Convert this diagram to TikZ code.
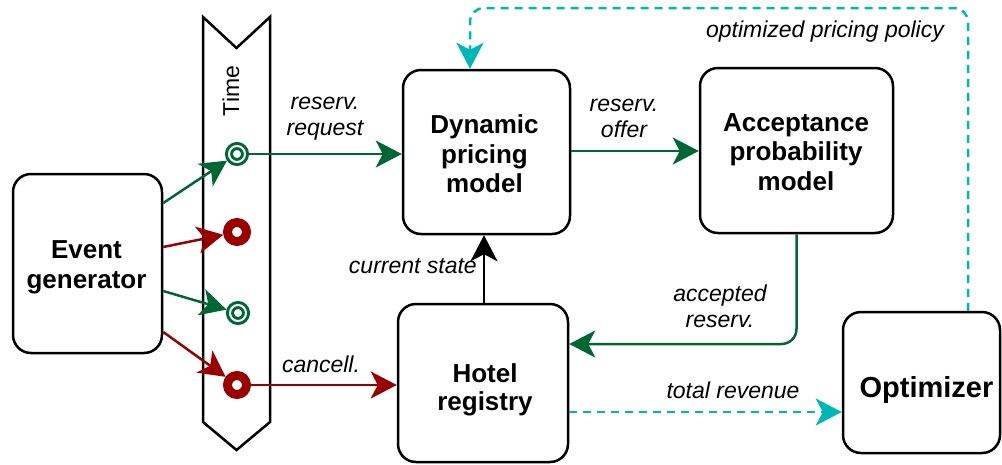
\documentclass[tikz,border=0pt]{standalone}
\usepackage{fontspec}
\setmainfont{Liberation Sans}
\usetikzlibrary{arrows.meta,calc}
\definecolor{cgreen}{RGB}{0,102,51}
\definecolor{cred}{RGB}{153,0,0}
\definecolor{ccyan}{RGB}{0,182,182}
\begin{document}
\begin{tikzpicture}[x=1pt,y=-1pt,
 box/.style={draw,rounded corners=18pt,line width=2.5pt,inner sep=0pt,fill=white},
 btext/.style={inner sep=0pt,align=center,anchor=base,font=\fontsize{26}{29.5}\selectfont\bfseries},
 lbl/.style={font=\fontsize{23}{26}\selectfont\itshape,align=center,inner sep=0pt},
 conn/.style={line width=2.5pt,-{Stealth[length=26pt,width=27pt,inset=7pt]}},
 gmark/.style={circle,draw=cgreen,line width=3pt,double=white,double distance=2pt,
   minimum size=16pt,inner sep=0pt,outer sep=4pt,fill=white},
 rmark/.style={circle,draw=cred,line width=9pt,minimum size=19pt,inner sep=0pt,outer sep=4.5pt,fill=white},
 cdashed/.style={draw=ccyan,line width=2.5pt,dash pattern=on 8pt off 6pt},
 ctip/.style={-{Stealth[length=26pt,width=27pt,inset=7pt,fill=ccyan,color=ccyan]}}
]
\useasboundingbox (0,0) rectangle (1002,464);

% Time arrow
\draw[line width=2.5pt,fill=white,line join=miter] (203,17) -- (236.5,48) -- (270,17) -- (270,422) -- (236.5,450) -- (203,422) -- cycle;
\node[rotate=90,inner sep=0pt,font=\fontsize{23}{26}\selectfont] (time) at (231,91) {Time};

% boxes
\node[box,minimum width=149pt,minimum height=179pt] (gen) at (87.5,263.5) {};
\node[btext] (gent) at (86.5,288) {Event\\generator};
\node[box,minimum width=167pt,minimum height=164pt] (dyn) at (486.5,152) {};
\node[btext] (dynt) at (484.5,192.5) {Dynamic\\pricing\\model};
\node[box,minimum width=193pt,minimum height=165pt] (acc) at (796.5,150.5) {};
\node[btext] (acct) at (796,190) {Acceptance\\probability\\model};
\node[box,minimum width=170pt,minimum height=158pt] (hotel) at (483,383) {};
\node[btext,font=\fontsize{26}{28}\selectfont\bfseries] (hotelt) at (485,410) {Hotel\\registry};
\node[box,minimum width=157pt,minimum height=141pt] (opt) at (921.5,382.5) {};
\node[btext,font=\fontsize{29}{33}\selectfont\bfseries] (optt) at (926.5,397) {Optimizer};

% markers
\node[gmark] (m1) at (237,154) {};
\node[rmark] (m2) at (237,232) {};
\node[gmark] (m3) at (238,313) {};
\node[rmark] (m4) at (237,385) {};

% generator to markers
\draw[conn,cgreen] ([yshift=60.5pt]gen.east) -- (m1);
\draw[conn,cred] ([yshift=16.5pt]gen.east) -- (m2);
\draw[conn,cgreen] ([yshift=-27.5pt]gen.east) -- (m3);
\draw[conn,cred] ([yshift=-68.5pt]gen.east) -- (m4);

% markers to models
\draw[conn,cgreen] (m1.east) -- (m1 -| dyn.west);
\draw[conn,cred] (m4.east) -- (m4 -| hotel.west);
\node[lbl,anchor=base] (lreq) at (325,135) {reserv.\\request};
\node[lbl,anchor=base] (lcan) at (321,372) {cancell.};

% dyn to acc
\draw[conn,cgreen] ([yshift=1pt]dyn.east) -- ([yshift=1pt]dyn.east -| acc.west);
\node[lbl,anchor=base] (loff) at (624,137) {reserv.\\offer};

% acc to hotel
\draw[conn,cgreen,rounded corners=15pt] (acc.south) |- ([yshift=39pt]hotel.east);
\node[lbl,anchor=base] (lacc) at (720,327) {accepted\\reserv.};

% hotel to dyn
\draw[conn,black] ([xshift=1pt]hotel.north) -- ([xshift=1pt]hotel.north |- dyn.south);
\node[lbl,anchor=base east] (lcur) at (477,273) {current state};

% hotel to optimizer
\draw[cdashed,ctip] ([yshift=-29pt]hotel.east) -- ([yshift=-29pt]hotel.east -| opt.west);
\node[lbl,anchor=base] (lrev) at (733,398) {total revenue};

% optimizer to dyn
\coordinate (tp) at (0,8);
\draw[cdashed,ctip,rounded corners=14pt] ([xshift=46.5pt]opt.north) -- ([xshift=46.5pt]opt.north |- tp) -- ([xshift=-16.5pt]dyn.north |- tp) -- ([xshift=-16.5pt]dyn.north);
\node[lbl,anchor=base] (lpol) at (825,37.5) {optimized pricing policy};
\end{tikzpicture}
\end{document}
